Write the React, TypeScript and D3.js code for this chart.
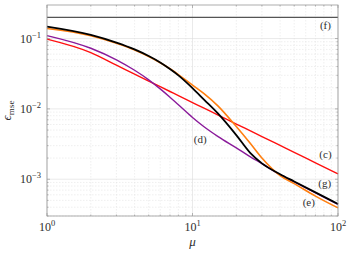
import React from "react";
import * as d3 from "d3";

const mu = [1, 2, 3, 4, 5, 6, 7, 8, 10, 12, 15, 20, 25, 30, 40, 50, 70, 100];
const seriesC = [0.098, 0.063, 0.04175, 0.03119, 0.02487, 0.02066, 0.01767, 0.01544, 0.01231, 0.01023, 0.00816, 0.00609, 0.00486, 0.00404, 0.00302, 0.00241, 0.00171, 0.00119];
const seriesD = [0.1103, 0.0728, 0.0498, 0.0354, 0.0259, 0.01925, 0.01467, 0.01144, 0.00755, 0.00558, 0.00404, 0.00279, 0.00208, 0.001667, 0.00116, 0.000918, 0.00064, 0.00044];
const seriesE = [0.1388, 0.1096, 0.0855, 0.0686, 0.0555, 0.0453, 0.0372, 0.0308, 0.0218, 0.0165, 0.01096, 0.0056, 0.00321, 0.002, 0.001125, 0.000866, 0.000575, 0.000391];
const seriesF = [0.2, 0.2, 0.2, 0.2, 0.2, 0.2, 0.2, 0.2, 0.2, 0.2, 0.2, 0.2, 0.2, 0.2, 0.2, 0.2, 0.2, 0.2];
const seriesG = [0.1482, 0.1129, 0.0877, 0.07, 0.0564, 0.0457, 0.0369, 0.03, 0.01976, 0.01356, 0.00855, 0.00424, 0.00235, 0.00168, 0.00118, 0.00093, 0.00065, 0.000445];

const xTicks = [1, 10, 100];
const xTickExp = ["0", "1", "2"];
const yTicks = [0.1, 0.01, 0.001];
const yTickExp = ["\u22121", "\u22122", "\u22123"];

const labels = [
  { text: "(c)", mu: 82, val: 0.0022 },
  { text: "(d)", mu: 11.3, val: 0.0035 },
  { text: "(e)", mu: 63, val: 0.00045 },
  { text: "(f)", mu: 82, val: 0.148 },
  { text: "(g)", mu: 81, val: 0.00084 },
];

const W = 354, H = 254;
const m = { left: 47, right: 338, top: 5, bottom: 216 };

export default function App() {
  const x = d3.scaleLog().domain([1, 100]).range([m.left, m.right]);
  const y = d3.scaleLog().domain([3e-4, 0.3]).range([m.bottom, m.top]);
  const line = (vals: number[]) =>
    d3
      .line<number>()
      .x((_, i) => x(mu[i]))
      .y((d) => y(d))
      .curve(d3.curveMonotoneX)(vals) || "";

  const minorX: number[] = [];
  for (let dec = 1; dec < 100; dec *= 10) for (let k = 2; k <= 9; k++) minorX.push(dec * k);
  const minorY: number[] = [];
  for (let dec = 1e-4; dec < 1; dec *= 10)
    for (let k = 1; k <= 9; k++) {
      const v = dec * k;
      if (v >= 3e-4 && v <= 0.3 && k !== 1) minorY.push(v);
    }

  const font = "Liberation Serif, DejaVu Serif, serif";
  const series = [
    { v: seriesF, c: "#555555", w: 1.2 },
    { v: seriesC, c: "#ff1010", w: 1.4 },
    { v: seriesD, c: "#8a1a9a", w: 1.4 },
    { v: seriesE, c: "#ff7f10", w: 1.6 },
    { v: seriesG, c: "#000000", w: 1.8 },
  ];

  return (
    <svg width={W} height={H} style={{ position: "absolute", left: 0, top: 0, background: "#fff" }}>
      <g>
        {minorX.map((v) => (
          <line key={"gx" + v} x1={x(v)} x2={x(v)} y1={m.top} y2={m.bottom} stroke="#e4e4e4" strokeWidth={0.6} strokeDasharray="1.5,1.5" />
        ))}
        {minorY.map((v) => (
          <line key={"gy" + v} x1={m.left} x2={m.right} y1={y(v)} y2={y(v)} stroke="#e4e4e4" strokeWidth={0.6} strokeDasharray="1.5,1.5" />
        ))}
        {xTicks.map((v) => (
          <line key={"Gx" + v} x1={x(v)} x2={x(v)} y1={m.top} y2={m.bottom} stroke="#dcdcdc" strokeWidth={0.6} />
        ))}
        {yTicks.map((v) => (
          <line key={"Gy" + v} x1={m.left} x2={m.right} y1={y(v)} y2={y(v)} stroke="#dcdcdc" strokeWidth={0.6} />
        ))}
      </g>
      <g stroke="#8a8a8a" strokeWidth={0.6}>
        {minorX.map((v) => (
          <g key={"tx" + v}>
            <line x1={x(v)} x2={x(v)} y1={m.bottom} y2={m.bottom - 1.5} />
            <line x1={x(v)} x2={x(v)} y1={m.top} y2={m.top + 1.5} />
          </g>
        ))}
        {xTicks.map((v) => (
          <g key={"Tx" + v}>
            <line x1={x(v)} x2={x(v)} y1={m.bottom} y2={m.bottom - 3} />
            <line x1={x(v)} x2={x(v)} y1={m.top} y2={m.top + 3} />
          </g>
        ))}
        {minorY.map((v) => (
          <g key={"ty" + v}>
            <line x1={m.left} x2={m.left + 1.5} y1={y(v)} y2={y(v)} />
            <line x1={m.right} x2={m.right - 1.5} y1={y(v)} y2={y(v)} />
          </g>
        ))}
        {yTicks.map((v) => (
          <g key={"Ty" + v}>
            <line x1={m.left} x2={m.left + 3} y1={y(v)} y2={y(v)} />
            <line x1={m.right} x2={m.right - 3} y1={y(v)} y2={y(v)} />
          </g>
        ))}
      </g>
      {series.map((s, i) => (
        <path key={i} d={line(s.v)} fill="none" stroke={s.c} strokeWidth={s.w} strokeLinejoin="round" />
      ))}
      <rect x={m.left} y={m.top} width={m.right - m.left} height={m.bottom - m.top} fill="none" stroke="#9a9a9a" strokeWidth={0.8} />
      <g fontFamily={font} fill="#2e2e2e">
        {xTicks.map((v, i) => (
          <text key={"lx" + v} x={x(v)} y={231} textAnchor="middle" fontSize={12}>
            10<tspan dy={-5} fontSize={8.5}>{xTickExp[i]}</tspan>
          </text>
        ))}
        {yTicks.map((v, i) => (
          <text key={"ly" + v} x={41} y={y(v) + 4} textAnchor="end" fontSize={12}>
            10<tspan dy={-5} fontSize={8.5}>{yTickExp[i]}</tspan>
          </text>
        ))}
        {labels.map((l) => (
          <text key={l.text} x={x(l.mu)} y={y(l.val)} textAnchor="middle" dominantBaseline="middle" fontSize={11}>
            {l.text}
          </text>
        ))}
        <text x={x(10)} y={246} textAnchor="middle" fontSize={13} fontStyle="italic">
          {"\u03bc"}
        </text>
        <text transform={`translate(11,${(m.top + m.bottom) / 2}) rotate(-90)`} textAnchor="middle" fontSize={13}>
          <tspan fontStyle="italic">{"\u03f5"}</tspan>
          <tspan dy={3} fontSize={9}>mse</tspan>
        </text>
      </g>
    </svg>
  );
}
